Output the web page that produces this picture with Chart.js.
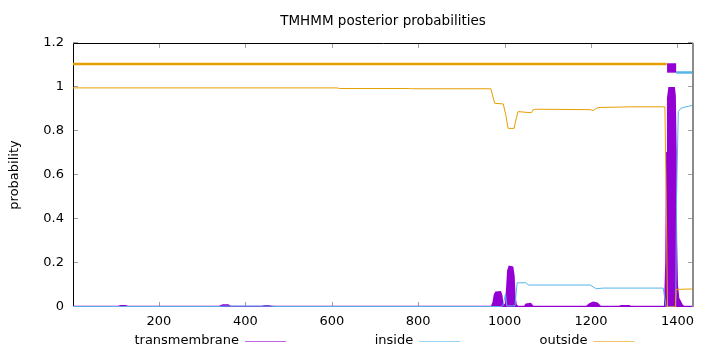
<!DOCTYPE html>
<html>
<head>
<meta charset="utf-8">
<title>TMHMM posterior probabilities</title>
<script src="https://cdn.jsdelivr.net/npm/chart.js@4.4.1/dist/chart.umd.min.js"></script>
<style>
  html, body { margin: 0; padding: 0; background: #fff; }
  #wrap { width: 720px; height: 352px; }
</style>
</head>
<body>
<div id="wrap"><canvas id="tmChart" width="720" height="352"></canvas></div>
<script>
// Posterior probabilities per residue
const seqStart = 1;
const seqLength = 1436;

const tmPos  = [1, 105, 112, 122, 128, 340, 348, 360, 366, 438, 445, 455, 460, 970, 974, 977, 980, 990, 993, 995, 1003, 1006, 1008, 1011, 1018, 1021, 1023, 1026, 1030, 1046, 1050, 1060, 1065, 1190, 1196, 1205, 1214, 1221, 1265, 1270, 1288, 1292, 1371, 1374, 1376, 1378, 1381, 1392, 1394, 1396, 1397, 1399, 1402, 1406, 1410, 1414, 1436];
const tmProb = [0.001, 0.001, 0.004, 0.004, 0.001, 0.001, 0.008, 0.008, 0.001, 0.001, 0.004, 0.004, 0.001, 0.001, 0.02, 0.055, 0.066, 0.068, 0.05, 0.01, 0.01, 0.1, 0.165, 0.183, 0.18, 0.14, 0.05, 0.01, 0.001, 0.001, 0.012, 0.014, 0.002, 0.001, 0.012, 0.02, 0.016, 0.002, 0.001, 0.005, 0.005, 0.001, 0.001, 0.2, 0.7, 0.95, 0.995, 0.995, 0.96, 0.7, 0.3, 0.1, 0.04, 0.025, 0.01, 0.001, 0.001];

const insidePos  = [1, 340, 350, 460, 470, 990, 996, 1002, 1005, 1024, 1029, 1050, 1055, 1198, 1212, 1228, 1367, 1374, 1396, 1398, 1402, 1408, 1420, 1436];
const insideProb = [0.002, 0.002, 0.004, 0.004, 0.002, 0.002, 0.005, 0.06, 0.005, 0.005, 0.11, 0.11, 0.1, 0.1, 0.083, 0.086, 0.086, 0.0, 0.0, 0.5, 0.888, 0.903, 0.91, 0.917];

const outsidePos  = [1, 612, 618, 780, 785, 968, 977, 997, 1003, 1008, 1022, 1026, 1031, 1062, 1066, 1072, 1198, 1205, 1214, 1221, 1295, 1371, 1374, 1377, 1395, 1397, 1436];
const outsideProb = [0.996, 0.996, 0.993, 0.993, 0.992, 0.992, 0.926, 0.923, 0.87, 0.812, 0.812, 0.85, 0.888, 0.883, 0.897, 0.899, 0.897, 0.893, 0.905, 0.907, 0.91, 0.91, 0.5, 0.0, 0.0, 0.08, 0.082];

// Predicted topology drawn above the curves
const outsideSegment = [1, 1375];
const outsideLevel = 1.105;
const tmSegment = [1376, 1397];
const tmLevel = 1.0865;
const insideSegment = [1397, 1436];
const insideLevel = 1.066;

// Axis ticks
const xTicks = [200, 400, 600, 800, 1000, 1200, 1400];
const yTicks = [0, 0.2, 0.4, 0.6, 0.8, 1, 1.2];

const FONT = 'DejaVu Sans';
const FONT_SIZE = 13;

const purple = '#9400d3';
const skyBlue = '#56b4e9';
const orange = '#e69f00';

const toPoints = (xs, ys) => xs.map((x, i) => ({ x: x, y: ys[i] }));
const levelLine = (seg, level) => [{ x: seg[0], y: level }, { x: seg[1], y: level }];

// Frame, inward ticks and the gnuplot style key
const framePlugin = {
  id: 'gnuplotFrame',
  beforeDatasetsDraw(chart) {
    const { ctx, chartArea: area } = chart;
    const xs = chart.scales.x;
    const ys = chart.scales.y;
    ctx.save();
    ctx.lineWidth = 1;
    ctx.strokeStyle = '#a0a0a0';
    ctx.beginPath();
    xTicks.forEach(v => {
      const px = Math.round(xs.getPixelForValue(v)) + 0.5;
      ctx.moveTo(px, area.bottom);
      ctx.lineTo(px, area.bottom - 5);
      ctx.moveTo(px, area.top);
      ctx.lineTo(px, area.top + 5);
    });
    yTicks.forEach(v => {
      const py = Math.round(ys.getPixelForValue(v)) - 0.5;
      ctx.moveTo(area.left, py);
      ctx.lineTo(area.left + 5, py);
      ctx.moveTo(area.right, py);
      ctx.lineTo(area.right - 5, py);
    });
    ctx.stroke();

    ctx.strokeStyle = '#000';
    ctx.beginPath();
    ctx.moveTo(area.left + 0.5, area.bottom);
    ctx.lineTo(area.left + 0.5, area.top + 0.5);
    ctx.lineTo(area.right, area.top + 0.5);
    ctx.moveTo(area.left, area.bottom - 0.5);
    ctx.lineTo(area.right, area.bottom - 0.5);
    ctx.stroke();
    ctx.restore();
  },
  afterDatasetsDraw(chart) {
    const { ctx, chartArea: area } = chart;
    ctx.save();
    // right edge shows up grey and a bit heavier
    ctx.strokeStyle = '#8c8c8c';
    ctx.lineWidth = 2;
    ctx.beginPath();
    ctx.moveTo(area.right, area.top);
    ctx.lineTo(area.right, area.bottom);
    ctx.stroke();

    // key: label text, then a short sample line
    const keys = ['transmembrane', 'inside', 'outside'];
    ctx.font = FONT_SIZE + 'px "' + FONT + '"';
    ctx.textAlign = 'right';
    ctx.textBaseline = 'middle';
    keys.forEach((name, i) => {
      const ds = chart.data.datasets.find(d => d.label === name);
      const tx = 239 + i * 174.2;
      const ty = 341;
      ctx.fillStyle = '#000';
      ctx.fillText(name, tx, ty);
      ctx.strokeStyle = ds.borderColor;
      ctx.lineWidth = 1;
      ctx.globalAlpha = 0.6;
      ctx.beginPath();
      ctx.moveTo(tx + 6, ty + 0.5);
      ctx.lineTo(tx + 47, ty + 0.5);
      ctx.stroke();
      ctx.globalAlpha = 1;
    });
    ctx.restore();
  }
};

document.addEventListener('DOMContentLoaded', function () {
  Chart.defaults.color = '#000';
  Chart.defaults.font.family = FONT;
  Chart.defaults.font.size = FONT_SIZE;

  new Chart(document.getElementById('tmChart'), {
    type: 'line',
    data: {
      datasets: [
        {
          label: 'outside-topology',
          data: levelLine(outsideSegment, outsideLevel),
          borderColor: orange,
          borderWidth: 2.5,
          borderCapStyle: 'butt',
          pointRadius: 0,
          order: 0
        },
        {
          label: 'tm-topology',
          data: levelLine(tmSegment, tmLevel),
          borderColor: purple,
          borderWidth: 9.4,
          borderCapStyle: 'butt',
          pointRadius: 0,
          order: 0
        },
        {
          label: 'inside-topology',
          data: levelLine(insideSegment, insideLevel),
          borderColor: skyBlue,
          borderWidth: 2.5,
          borderCapStyle: 'butt',
          pointRadius: 0,
          order: 0
        },
        {
          label: 'outside',
          data: toPoints(outsidePos, outsideProb),
          borderColor: orange,
          borderWidth: 1,
          pointRadius: 0,
          order: 1
        },
        {
          label: 'inside',
          data: toPoints(insidePos, insideProb),
          borderColor: skyBlue,
          borderWidth: 1,
          pointRadius: 0,
          order: 2
        },
        {
          label: 'transmembrane',
          data: toPoints(tmPos, tmProb),
          borderColor: purple,
          backgroundColor: purple,
          borderWidth: 2,
          fill: 'origin',
          pointRadius: 0,
          order: 3
        }
      ]
    },
    options: {
      responsive: false,
      animation: false,
      layout: { padding: { left: 0, right: 27, top: 0, bottom: 0 } },
      plugins: {
        legend: { display: false },
        tooltip: { enabled: false },
        title: {
          display: true,
          fullSize: false,
          text: 'TMHMM posterior probabilities',
          color: '#000',
          font: { family: FONT, size: 13.5, weight: 'normal', lineHeight: 1.2 },
          padding: { top: 13, bottom: 13.8 }
        }
      },
      scales: {
        x: {
          type: 'linear',
          min: seqStart,
          max: seqLength,
          grid: { display: false, drawTicks: false },
          border: { display: false },
          afterBuildTicks: scale => { scale.ticks = xTicks.map(v => ({ value: v })); },
          afterFit: scale => { scale.height = 45; },
          ticks: {
            padding: 7.2,
            maxRotation: 0,
            callback: value => String(value)
          }
        },
        y: {
          min: 0,
          max: 1.2,
          grid: { display: false, drawTicks: false },
          border: { display: false },
          afterBuildTicks: scale => { scale.ticks = yTicks.map(v => ({ value: v })); },
          afterFit: scale => { scale.width = 73; },
          ticks: {
            padding: 9,
            callback: value => String(Math.round(value * 10) / 10)
          },
          title: {
            display: true,
            text: 'probability',
            padding: { top: 7.2, bottom: 0 },
            font: { family: FONT, size: FONT_SIZE }
          }
        }
      }
    },
    plugins: [framePlugin]
  });
});
</script>
</body>
</html>
